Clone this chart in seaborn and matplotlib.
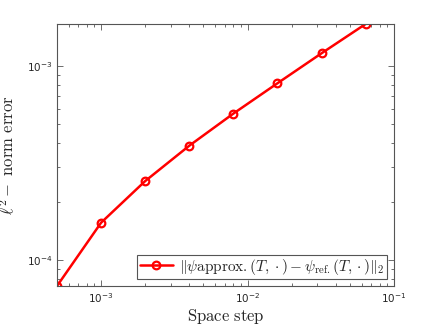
import numpy as np
import pandas as pd
import matplotlib
matplotlib.use("Agg")
import matplotlib.pyplot as plt
import seaborn as sns
from matplotlib.ticker import LogLocator, NullFormatter

# Data
space_step = [5e-4, 1e-3, 2e-3, 4e-3, 8e-3, 1.6e-2, 3.2e-2, 6.4e-2]
l2_error = [7.34e-5, 1.556e-4, 2.55e-4, 3.88e-4, 5.68e-4, 8.14e-4, 1.162e-3, 1.645e-3]
series_label = r'$\|\psi\mathrm{approx.}(T,\cdot)-\psi_{\mathrm{ref.}}(T,\cdot)\|_2$'

sns.set_style("ticks")
plt.rcParams['mathtext.fontset'] = 'cm'
plt.rcParams['font.family'] = ['DejaVu Sans']

df = pd.DataFrame({"x": space_step, "y": l2_error})

fig = plt.figure(figsize=(4.36, 3.27), dpi=100)
ax = fig.add_axes([57/436, 1-286/327, (394-57)/436, (286-24)/327])

sns.lineplot(data=df, x="x", y="y", ax=ax, color="#ff0000", lw=1.8,
             marker="o", markersize=5.5, markerfacecolor="none",
             markeredgecolor="#ff0000", markeredgewidth=1.6, label=series_label)

ax.set_xscale("log")
ax.set_yscale("log")
ax.set_xlim(space_step[0], 1e-1)
ax.set_ylim(l2_error[0], l2_error[-1])

ax.xaxis.set_major_locator(LogLocator(base=10, numticks=10))
ax.yaxis.set_major_locator(LogLocator(base=10, numticks=10))
ax.xaxis.set_minor_locator(LogLocator(base=10, subs=np.arange(2, 10), numticks=10))
ax.yaxis.set_minor_locator(LogLocator(base=10, subs=np.arange(2, 10), numticks=10))
ax.xaxis.set_minor_formatter(NullFormatter())
ax.yaxis.set_minor_formatter(NullFormatter())

gray = "#262626"
for s in ax.spines.values():
    s.set_visible(True)
    s.set_color("#555555")
    s.set_linewidth(0.8)
ax.tick_params(which="both", direction="in", top=True, right=True,
               colors="#555555", labelcolor=gray, labelsize=7.5, width=0.6)
ax.tick_params(which="major", length=4)
ax.tick_params(which="minor", length=2)

ax.set_xlabel(r'$\mathrm{Space\ step}$', fontsize=12, color=gray, labelpad=2)
ax.set_ylabel(r'$\ell^2-\ \mathrm{norm\ error}$', fontsize=12, color=gray, labelpad=6)

leg = ax.legend(loc="lower right", fontsize=11, frameon=True, fancybox=False,
                borderaxespad=0.45, borderpad=0.15, handlelength=2.2,
                handletextpad=0.4, edgecolor="#555555", framealpha=1)
leg.get_frame().set_linewidth(0.8)

fig.savefig("out.png", dpi=100)
